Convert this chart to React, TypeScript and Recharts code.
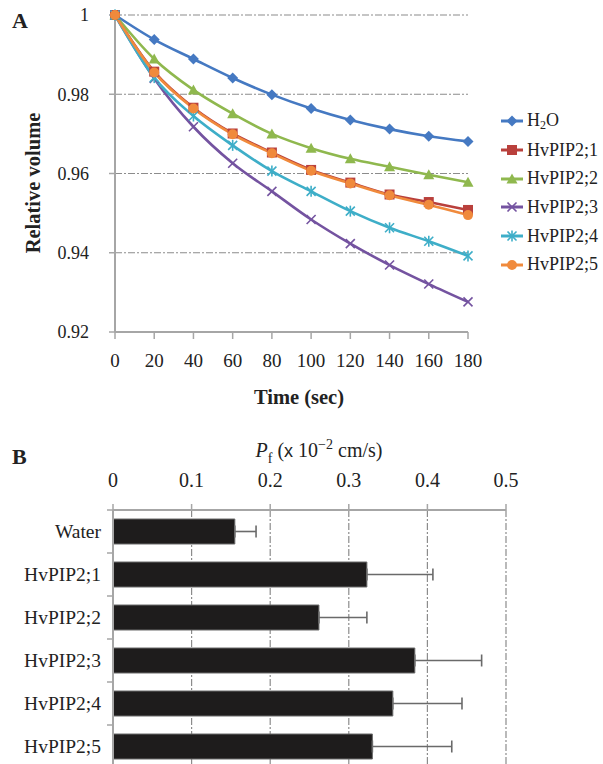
import React from 'react';
import { LineChart, Line, XAxis, YAxis, CartesianGrid, Legend, BarChart, Bar, ErrorBar } from 'recharts';

// ---- Panel A data ----
const times = [0, 20, 40, 60, 80, 100, 120, 140, 160, 180];
const h2o = [1, 0.9938, 0.9889, 0.9841, 0.9799, 0.9764, 0.9735, 0.9712, 0.9694, 0.9681];
const pip21 = [1, 0.9857, 0.9766, 0.9701, 0.9653, 0.9609, 0.9577, 0.9547, 0.9528, 0.9508];
const pip22 = [1, 0.9889, 0.9811, 0.9751, 0.97, 0.9664, 0.9637, 0.9617, 0.9597, 0.9578];
const pip23 = [1, 0.984, 0.9718, 0.9626, 0.9555, 0.9484, 0.9423, 0.9369, 0.9321, 0.9276];
const pip24 = [1, 0.9842, 0.9745, 0.9671, 0.9606, 0.9555, 0.9505, 0.9463, 0.9429, 0.9392];
const pip25 = [1, 0.9855, 0.9764, 0.9699, 0.9651, 0.9607, 0.9575, 0.9545, 0.9521, 0.9495];
const seriesNames = ['H2O', 'HvPIP2;1', 'HvPIP2;2', 'HvPIP2;3', 'HvPIP2;4', 'HvPIP2;5'];
const seriesValues = [h2o, pip21, pip22, pip23, pip24, pip25];
const volumeTicks = [0.92, 0.94, 0.96, 0.98, 1];
const timeTicks = [0, 20, 40, 60, 80, 100, 120, 140, 160, 180];

// ---- Panel B data ----
const categories = ['Water', 'HvPIP2;1', 'HvPIP2;2', 'HvPIP2;3', 'HvPIP2;4', 'HvPIP2;5'];
const pfValues = [0.155, 0.323, 0.262, 0.384, 0.356, 0.33];
const pfErrors = [0.027, 0.084, 0.061, 0.085, 0.088, 0.101];
const pfTicks = [0, 0.1, 0.2, 0.3, 0.4, 0.5];

const seriesColors = ['#4579c2', '#b9403c', '#8fb84e', '#7453a0', '#3eaec8', '#f08a3c'];
const seriesMarkers = ['diamond', 'square', 'triangle', 'x', 'star', 'circle'];

const FONT = '"Liberation Serif", "Times New Roman", serif';

const lineData = times.map((t, i) => {
  const row: any = { t };
  seriesNames.forEach((n, k) => {
    row[n] = seriesValues[k][i];
  });
  return row;
});

const barData = categories.map((c, i) => ({ name: c, pf: pfValues[i], err: [0, pfErrors[i]] }));

const Marker = ({ kind, cx, cy, color }: any) => {
  if (cx == null || cy == null) return null;
  switch (kind) {
    case 'diamond':
      return <polygon points={`${cx},${cy - 5.5} ${cx + 5.5},${cy} ${cx},${cy + 5.5} ${cx - 5.5},${cy}`} fill={color} />;
    case 'square':
      return <rect x={cx - 5} y={cy - 5} width={10} height={10} fill={color} />;
    case 'triangle':
      return <polygon points={`${cx},${cy - 5.5} ${cx + 5.5},${cy + 4.5} ${cx - 5.5},${cy + 4.5}`} fill={color} />;
    case 'x':
      return (
        <g stroke={color} strokeWidth={1.6}>
          <line x1={cx - 4.5} y1={cy - 4.5} x2={cx + 4.5} y2={cy + 4.5} />
          <line x1={cx - 4.5} y1={cy + 4.5} x2={cx + 4.5} y2={cy - 4.5} />
        </g>
      );
    case 'star':
      return (
        <g stroke={color} strokeWidth={1.6}>
          <line x1={cx - 4.5} y1={cy - 4.5} x2={cx + 4.5} y2={cy + 4.5} />
          <line x1={cx - 4.5} y1={cy + 4.5} x2={cx + 4.5} y2={cy - 4.5} />
          <line x1={cx} y1={cy - 5.5} x2={cx} y2={cy + 5.5} />
        </g>
      );
    default:
      return <circle cx={cx} cy={cy} r={5} fill={color} />;
  }
};

const renderName = (name: string) =>
  name === 'H2O' ? (
    <span>
      H<sub style={{ fontSize: 12, verticalAlign: -3 }}>2</sub>O
    </span>
  ) : (
    <span>{name}</span>
  );

const LegendContent = (props: any) => {
  const payload = props.payload || [];
  return (
    <div style={{ fontFamily: FONT, fontSize: 18, color: '#222' }}>
      {payload.map((p: any) => {
        const k = seriesNames.indexOf(p.value);
        const color = seriesColors[k];
        return (
          <div key={p.value} style={{ height: 28.7, display: 'flex', alignItems: 'center' }}>
            <svg width={24} height={14} style={{ marginRight: 3 }}>
              <line x1={1} y1={7} x2={23} y2={7} stroke={color} strokeWidth={3} />
              <Marker kind={seriesMarkers[k]} cx={12} cy={7} color={color} />
            </svg>
            {renderName(p.value)}
          </div>
        );
      })}
    </div>
  );
};

const CategoryTick = (props: any) => {
  const { x, y, payload } = props;
  return (
    <g>
      <line x1={107} y1={y - 21.5} x2={113} y2={y - 21.5} stroke="#a6a6a6" strokeWidth={1.5} />
      <text x={x} y={y} dy={6.5} textAnchor="end" fontFamily={FONT} fontSize={19.5} fill="#222">
        {payload.value}
      </text>
    </g>
  );
};

export default function App() {
  return (
    <div style={{ position: 'absolute', left: 0, top: 0, width: 603, height: 764, overflow: 'hidden', background: '#fff' }}>
      <div style={{ position: 'absolute', left: 0, top: 0 }}>
        <LineChart width={603} height={420} data={lineData} margin={{ top: 15, right: 135, bottom: 8, left: 0 }}>
          <CartesianGrid vertical={false} stroke="#8c8c8c" strokeWidth={1.2} strokeDasharray="7 2 2 2" />
          <XAxis
            dataKey="t"
            type="number"
            domain={[0, 180]}
            ticks={timeTicks}
            height={80}
            tickSize={7}
            tickMargin={15}
            axisLine={{ stroke: '#a6a6a6', strokeWidth: 2 }}
            tickLine={{ stroke: '#a6a6a6', strokeWidth: 1.5 }}
            tick={{ fontFamily: FONT, fontSize: 19, fill: '#222' }}
            interval={0}
            label={{
              content: () => (
                <text x={299} y={404} textAnchor="middle" fontFamily={FONT} fontWeight="bold" fontSize={20.5} fill="#222">
                  Time (sec)
                </text>
              ),
            }}
          />
          <YAxis
            type="number"
            domain={[0.92, 1]}
            ticks={volumeTicks}
            width={115}
            tickSize={6}
            tickMargin={20}
            axisLine={{ stroke: '#a6a6a6', strokeWidth: 2 }}
            tickLine={{ stroke: '#a6a6a6', strokeWidth: 1.5 }}
            tick={{ fontFamily: FONT, fontSize: 18, fill: '#222' }}
            interval={0}
            label={{
              content: () => (
                <text
                  x={33}
                  y={183}
                  transform="rotate(-90 33 183)"
                  textAnchor="middle"
                  dominantBaseline="central"
                  fontFamily={FONT}
                  fontWeight="bold"
                  fontSize={20.5}
                  fill="#222"
                >
                  Relative volume
                </text>
              ),
            }}
          />
          <Legend
            layout="horizontal"
            verticalAlign="middle"
            align="center"
            content={LegendContent}
            wrapperStyle={{ left: 500, top: 107, width: 103 }}
          />
          {seriesNames.map((n, k) => (
            <Line
              key={n}
              dataKey={n}
              name={n}
              type="monotone"
              stroke={seriesColors[k]}
              strokeWidth={2.6}
              isAnimationActive={false}
              dot={(p: any) => (
                <Marker key={`${n}-${p.index}`} kind={seriesMarkers[k]} cx={p.cx} cy={p.cy} color={seriesColors[k]} />
              )}
              activeDot={false}
            />
          ))}
        </LineChart>
        <div style={{ position: 'absolute', left: 12, top: 8, fontFamily: FONT, fontWeight: 'bold', fontSize: 22, color: '#222' }}>A</div>
      </div>

      <div style={{ position: 'absolute', left: 0, top: 420 }}>
        <BarChart width={603} height={350} data={barData} layout="vertical" margin={{ top: 50, right: 97, bottom: 2, left: 0 }}>
          <CartesianGrid horizontal={false} stroke="#8c8c8c" strokeWidth={1.2} strokeDasharray="7 2 2 2" />
          <XAxis
            type="number"
            orientation="top"
            domain={[0, 0.5]}
            ticks={pfTicks}
            height={40}
            tickSize={6}
            tickMargin={17}
            interval={0}
            axisLine={{ stroke: '#a6a6a6', strokeWidth: 2 }}
            tickLine={{ stroke: '#a6a6a6', strokeWidth: 1.5 }}
            tick={{ fontFamily: FONT, fontSize: 20, fill: '#222' }}
            label={{
              content: () => (
                <text x={319} y={37} textAnchor="middle" fontFamily={FONT} fontSize={20} fill="#222">
                  <tspan fontStyle="italic">P</tspan>
                  <tspan fontSize={14} dy={6}>f</tspan>
                  <tspan dy={-6}> (</tspan>
                  <tspan fontFamily="Arial, 'Liberation Sans', sans-serif" fontSize={18}>x</tspan>
                  <tspan> 10</tspan>
                  <tspan fontSize={14} dy={-8}>−2</tspan>
                  <tspan dy={8}> cm/s)</tspan>
                </text>
              ),
            }}
          />
          <YAxis
            type="category"
            dataKey="name"
            width={113}
            tickLine={false}
            tickMargin={6}
            axisLine={{ stroke: '#a6a6a6', strokeWidth: 2 }}
            tick={<CategoryTick />}
            interval={0}
          />
          <Bar dataKey="pf" fill="#1e1c1c" stroke="#6a6a6a" strokeWidth={1} barSize={25} isAnimationActive={false}>
            <ErrorBar dataKey="err" direction="x" stroke="#6a6a6a" strokeWidth={1.6} width={6} />
          </Bar>
        </BarChart>
        <div style={{ position: 'absolute', left: 12, top: 24, fontFamily: FONT, fontWeight: 'bold', fontSize: 22, color: '#222' }}>B</div>
      </div>
    </div>
  );
}
